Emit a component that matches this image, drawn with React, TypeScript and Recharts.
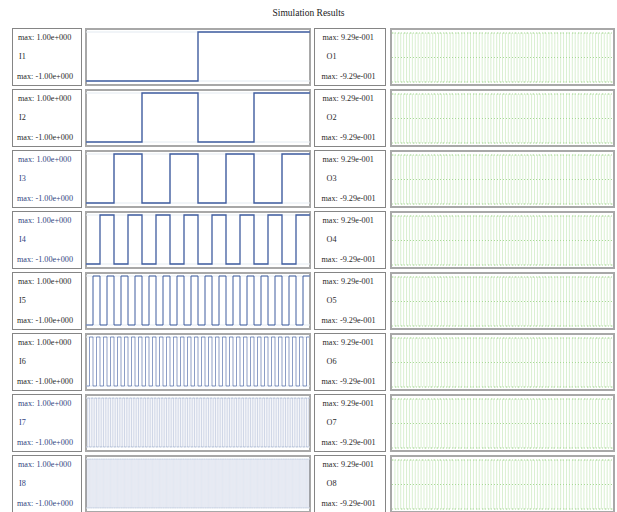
import { LineChart, Line, XAxis, YAxis, CartesianGrid } from 'recharts'

// input bit patterns, 0 = low (-1), 1 = high (+1)
const I1 = '01'
const I2 = '0101'
const I3 = '01010101'
const I4 = '0101010101010101'
const I5 = '0101010101010101' + '0101010101010101'
const I6 = '0101010101010101' + '0101010101010101' + '0101010101010101' + '0101010101010101'
const I7 =
  '01010101010101010101010101010101' + '01010101010101010101010101010101' +
  '01010101010101010101010101010101' + '01010101010101010101010101010101'
const I8 =
  '01010101010101010101010101010101' + '01010101010101010101010101010101' +
  '01010101010101010101010101010101' + '01010101010101010101010101010101' +
  '01010101010101010101010101010101' + '01010101010101010101010101010101' +
  '01010101010101010101010101010101' + '01010101010101010101010101010101'

// output samples: + = max, - = min
const OUT =
  '+-+-+-+-+-+-+-+-+-+-' + '+-+-+-+-+-+-+-+-+-+-' + '+-+-+-+-+-+-+-+-+-+-' + '+-+-+-+-+-+-+-+-'

const inputs = [I1, I2, I3, I4, I5, I6, I7, I8]
const inNames = ['I1', 'I2', 'I3', 'I4', 'I5', 'I6', 'I7', 'I8']
const outNames = ['O1', 'O2', 'O3', 'O4', 'O5', 'O6', 'O7', 'O8']
const inMax = 1.0
const inMin = -1.0
const outMax = 0.929
const outMin = -0.929
const blueLabel = [false, false, true, true, false, false, true, true]
const inWidth = [1.4, 1.4, 1.4, 1.3, 1.0, 0.6, 0.25, 0.12]

const fmt = (v: number) => {
  const [m, e] = v.toExponential(2).split('e')
  const n = Math.abs(Number(e))
  return `${m}e${Number(e) < 0 ? '-' : '+'}${String(n).padStart(3, '0')}`
}

const toSquare = (bits: string) => {
  const pts = bits.split('').map((b, i) => ({ x: i, v: b === '1' ? inMax : inMin }))
  pts.push({ x: bits.length, v: pts[pts.length - 1].v })
  return pts
}

const toOut = (s: string) => {
  const pts = s.split('').map((c, i) => ({ x: i, v: c === '+' ? outMax : c === '-' ? outMin : 0 }))
  pts.push({ x: s.length, v: pts[pts.length - 1].v })
  return pts
}

const font = '"Liberation Serif", "Times New Roman", serif'
const ROW0 = 28
const PITCH = 61
const H = 58

function Label({ left, width, top, max, name, min, color, offs }: any) {
  const txt = (y: number, x: number, t: string) => (
    <div style={{ position: 'absolute', left: x, top: y, fontSize: 8.2, lineHeight: '10px', color, whiteSpace: 'nowrap' }}>{t}</div>
  )
  return (
    <div style={{ position: 'absolute', left, top, width, height: H, boxSizing: 'border-box', border: '1.5px solid #858585' }}>
      {txt(3.5, offs[0], max)}
      {txt(23, offs[1], name)}
      {txt(43, offs[2], min)}
    </div>
  )
}

export default function App() {
  const outData = toOut(OUT)
  return (
    <div style={{ position: 'absolute', left: 0, top: 0, width: 617, height: 512, overflow: 'hidden', background: '#fff', fontFamily: font }}>
      <div style={{ position: 'absolute', left: 0, width: 617, top: 8, textAlign: 'center', fontSize: 9.5, color: '#222' }}>
        Simulation Results
      </div>
      {inputs.map((bits, r) => {
        const top = ROW0 + r * PITCH
        const color = blueLabel[r] ? '#34477f' : '#2a2a2a'
        return (
          <div key={inNames[r]}>
            <Label left={12} width={70} top={top} max={`max: ${fmt(inMax)}`} name={inNames[r]} min={`max: ${fmt(inMin)}`} color={color} offs={[5, 6, 4]} />
            <div style={{ position: 'absolute', left: 85, top, width: 226, height: H, boxSizing: 'border-box', border: '2px solid #a8a8a8' }} />
            <div style={{ position: 'absolute', left: 85, top }}>
              <LineChart width={226} height={H} data={toSquare(bits)} margin={{ top: 4, right: 1, bottom: 5, left: 1 }}>
                <CartesianGrid vertical={false} stroke="#e3eaf1" strokeWidth={1} />
                <XAxis type="number" dataKey="x" domain={[0, bits.length]} hide />
                <YAxis domain={[inMin, inMax]} ticks={[inMin, 0, inMax]} hide />
                <Line type="stepAfter" dataKey="v" stroke="#3f5c9f" strokeWidth={inWidth[r]} dot={false} isAnimationActive={false} />
              </LineChart>
            </div>
            <Label left={314} width={72} top={top} max={`max: ${fmt(outMax)}`} name={outNames[r]} min={`max: ${fmt(outMin)}`} color="#2a2a2a" offs={[7.5, 11.5, 6.5]} />
            <div style={{ position: 'absolute', left: 390, top, width: 225, height: H, boxSizing: 'border-box', border: '2px solid #a8a8a8' }} />
            <div style={{ position: 'absolute', left: 390, top }}>
              <LineChart width={225} height={H} data={outData} margin={{ top: 5, right: 2, bottom: 4, left: 2 }}>
                <CartesianGrid vertical={false} stroke="#a9d897" strokeDasharray="1 2" />
                <XAxis type="number" dataKey="x" domain={[0, OUT.length]} hide />
                <YAxis domain={[outMin, outMax]} ticks={[0]} hide />
                <Line type="stepAfter" dataKey="v" stroke="#a9dc98" strokeWidth={0.45} dot={false} isAnimationActive={false} />
              </LineChart>
            </div>
          </div>
        )
      })}
    </div>
  )
}
